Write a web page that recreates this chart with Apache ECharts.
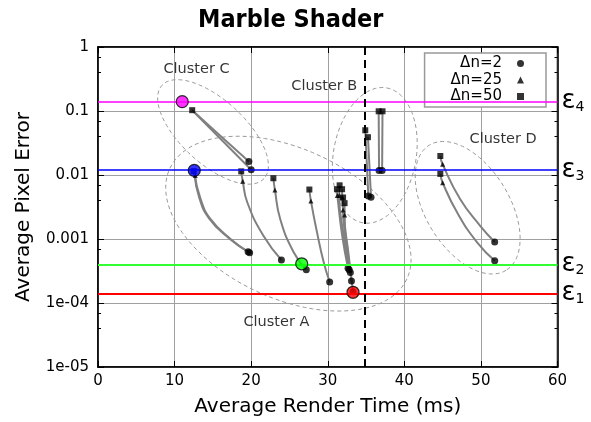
<!DOCTYPE html>
<html><head><meta charset="utf-8">
<script src="https://cdn.jsdelivr.net/npm/echarts@6/dist/echarts.min.js"></script>
<style>html,body{margin:0;padding:0;background:#fff}#c{width:591px;height:422px}</style>
</head><body><div id="c"></div>
<script>
// ---- data ----
const titleText = 'Marble Shader';
const xName = 'Average Render Time (ms)';
const yName = 'Average Pixel Error';
const yTickValues = [1e-5, 1e-4, 1e-3, 1e-2, 1e-1, 1];
const yTickLabels = ['1e-05', '1e-04', '0.001', '0.01', '0.1', '1'];

// curves: each runs from the Δn=50 point to the Δn=2 point  [ms, error]
const curves = [
  // Cluster C
  [[12.3, 0.103], [16.0, 0.0408], [19.7, 0.0162]],
  [[12.3, 0.103], [16.15, 0.0353], [20.0, 0.0121]],
  // Cluster A
  [[12.6, 0.0105], [13.4, 0.00419], [14.7, 0.00204], [17.3, 0.0010], [19.8, 0.00061]],
  [[12.6, 0.0105], [13.2, 0.0045], [14.5, 0.0021], [17.1, 0.00103], [19.6, 0.00063]],
  [[18.7, 0.0114], [18.9, 0.0080], [19.5, 0.00372], [21.6, 0.00112], [23.95, 0.00047]],
  [[22.9, 0.0089], [23.1, 0.00583], [23.8, 0.00204], [25.55, 0.00062], [27.2, 0.00033]],
  [[27.6, 0.00593], [27.8, 0.00394], [28.6, 0.00127], [29.47, 0.000432], [30.25, 0.000213]],
  [[31.2, 0.0060], [31.25, 0.0048], [31.9, 0.0011], [32.65, 0.00035]],
  [[31.55, 0.0069], [31.5, 0.0048], [32.1, 0.0011], [32.8, 0.00033]],
  [[31.87, 0.0060], [31.9, 0.0045], [32.3, 0.0011], [32.95, 0.00030]],
  [[32.0, 0.00445], [32.0, 0.00285], [32.5, 0.0008], [33.1, 0.00022]],
  [[32.2, 0.00363], [32.2, 0.00238], [32.7, 0.0006], [33.3, 0.00015]],
  // Cluster B
  [[34.9, 0.050], [35.3, 0.0047]],
  [[35.25, 0.039], [35.65, 0.0045]],
  [[36.65, 0.099], [36.7, 0.0118]],
  [[37.15, 0.099], [37.1, 0.0118]],
  // Cluster D
  [[44.7, 0.0198], [45.0, 0.0147], [47.3, 0.00418], [49.9, 0.00161], [51.8, 0.00090]],
  [[44.7, 0.0104], [45.0, 0.0076], [46.9, 0.00259], [49.5, 0.000885], [51.8, 0.000457]]
];

const dn50 = [[12.3, 0.103], [12.5, 0.0115], [18.7, 0.0114], [22.9, 0.0089], [27.6, 0.00593],
  [31.2, 0.0060], [31.55, 0.0069], [31.87, 0.0060], [32.0, 0.00445], [32.2, 0.00363],
  [34.9, 0.050], [35.25, 0.039], [36.65, 0.099], [37.15, 0.099], [44.7, 0.0198], [44.7, 0.0104]];
const dn25 = [[12.7, 0.0098], [18.9, 0.0080], [23.1, 0.00583], [27.8, 0.00394],
  [31.25, 0.0048], [31.5, 0.0048], [31.9, 0.0045], [32.0, 0.00285], [32.2, 0.00238],
  [45.0, 0.0147], [45.0, 0.0076]];
const dn2 = [[19.7, 0.0162], [20.0, 0.0121], [19.8, 0.00061], [19.6, 0.00063], [23.95, 0.00047],
  [27.2, 0.00033], [30.25, 0.000213], [32.65, 0.00035], [32.8, 0.00033], [32.95, 0.00030],
  [33.1, 0.00022], [33.3, 0.00015], [35.3, 0.0047], [35.65, 0.0045], [36.7, 0.0118], [37.1, 0.0118],
  [51.8, 0.00090], [51.8, 0.000457]];

const bestMs = [11.0, 12.57, 26.6, 33.3];
const bestErr = [0.140, 0.0118, 0.00041, 0.000147];

const epsValues = [0.00014, 0.00040, 0.012, 0.14];
const epsIndex = ['1', '2', '3', '4'];
const budgetMs = 34.8;

const clusterNames = ['Cluster A', 'Cluster B', 'Cluster C', 'Cluster D'];
const clusterLabelAt = [[23.3, 5.08e-5], [29.55, 0.241], [12.87, 0.443], [52.9, 0.036]];
// ellipses in data space: centre [ms, error], semi-axes [Δms, Δdecades]
const ellipses = [
  {center: [24.86, 0.001738], major: [15.48, -0.863], minor: [-4.13, -1.059]},
  {center: [36.14, 0.02028], major: [1.55, 1.054], minor: [5.32, -0.112]},
  {center: [15.02, 0.0471], major: [6.66, -0.729], minor: [-2.82, -0.368]},
  {center: [48.27, 0.00308], major: [5.01, -0.978], minor: [-4.67, -0.341]}
];

// ---- styles ----
const epsColors = ['#ff0000', '#33ff33', '#0000ff', '#ff00ff'];
const epsWidths = [2, 2, 1.5, 1.5];
const bestColors = ['#ff00ff', '#0000ff', '#00ff00', '#ff0000'];
const FONT = 'DejaVu Sans';

const chart = echarts.init(document.getElementById('c'), null, {renderer: 'canvas'});

function yFmt(v) {
  const i = yTickValues.findIndex(t => Math.abs(Math.log10(t) - Math.log10(v)) < 1e-6);
  return i >= 0 ? yTickLabels[i] : '';
}

const series = [];
series.push({
  type: 'custom', z: 1, silent: true, clip: false,
  data: ellipses.map((e, i) => [e.center[0], e.center[1], i]),
  renderItem(params, api) {
    const e = ellipses[api.value(2)];
    const c = api.coord(e.center);
    const pu = api.coord([e.center[0] + e.major[0], e.center[1] * Math.pow(10, e.major[1])]);
    const pw = api.coord([e.center[0] + e.minor[0], e.center[1] * Math.pow(10, e.minor[1])]);
    const U = [pu[0] - c[0], pu[1] - c[1]], W = [pw[0] - c[0], pw[1] - c[1]];
    const pts = [];
    for (let k = 0; k <= 96; k++) {
      const t = k / 96 * 2 * Math.PI;
      pts.push([c[0] + U[0] * Math.cos(t) + W[0] * Math.sin(t), c[1] + U[1] * Math.cos(t) + W[1] * Math.sin(t)]);
    }
    return {type: 'polyline', shape: {points: pts}, style: {fill: 'none', stroke: '#999', lineWidth: 1, lineDash: [4, 3]}};
  }
});
// reference lines
series.push({
  type: 'line', data: [], z: 2, silent: true,
  markLine: {
    silent: true, symbol: 'none', animation: false, precision: 10,
    data: epsValues.map((v, i) => ({
      yAxis: v,
      lineStyle: {color: epsColors[i], width: epsWidths[i], type: 'solid'},
      label: {show: true, position: 'end', distance: 4, formatter: '{e|ε}{s|' + epsIndex[i] + '}',
        rich: {
          e: {fontSize: 26, fontFamily: FONT, color: '#000', verticalAlign: 'bottom'},
          s: {fontSize: 14, fontFamily: FONT, color: '#000', verticalAlign: 'bottom'}
        }}
    })).concat([{
      xAxis: budgetMs, lineStyle: {color: '#000', width: 2, type: [8, 5]}, label: {show: false}
    }])
  }
});
curves.forEach(pts => series.push({
  type: 'line', data: pts, smooth: true, symbol: 'none', showSymbol: false, silent: true, z: 3,
  lineStyle: {color: '#808080', width: 2}
}));
series.push({name: 'Δn=2', type: 'scatter', data: dn2, symbol: 'circle', symbolSize: 7, itemStyle: {color: '#000'}, z: 4});
series.push({name: 'Δn=25', type: 'scatter', data: dn25, symbol: 'triangle', symbolSize: 5, itemStyle: {color: '#000'}, z: 4});
series.push({name: 'Δn=50', type: 'scatter', data: dn50, symbol: 'rect', symbolSize: 6, itemStyle: {color: '#000'}, z: 4});
series.push({
  type: 'scatter', z: 5, symbolSize: 12,
  data: bestMs.map((m, i) => ({value: [m, bestErr[i]], itemStyle: {color: bestColors[i], borderColor: '#000', borderWidth: 1.2}}))
});
series.push({
  type: 'scatter', z: 5, symbolSize: 0, silent: true,
  data: clusterLabelAt.map((p, i) => ({value: p, name: clusterNames[i]})),
  label: {show: true, position: 'inside', formatter: p => p.name, fontSize: 14.5, fontFamily: FONT, color: '#000'}
});

const yAxisBase = {
  type: 'log', logBase: 10, min: 1e-5, max: 1,
  axisLine: {show: true, onZero: false, lineStyle: {color: '#000', width: 1.5}},
  axisTick: {show: true, inside: true, length: 6, lineStyle: {color: '#000'}},
  minorTick: {show: true, splitNumber: 3, length: 3, lineStyle: {color: '#000'}}
};

chart.setOption({
  animation: false,
  textStyle: {fontFamily: FONT},
  title: {text: titleText, left: 193, top: 3,
    textStyle: {fontSize: 25, fontWeight: 'bold', color: '#000', fontFamily: "'DejaVu Sans Condensed', 'DejaVu Sans'"}},
  grid: {left: 98, right: 33.5, top: 47, bottom: 53.7, show: true, borderColor: '#000', borderWidth: 1.5},
  legend: {
    orient: 'vertical', right: 45, top: 53, align: 'right', itemWidth: 7, itemHeight: 7, itemGap: 1.5,
    padding: [3, 22, 3, 26], borderColor: '#999', borderWidth: 1.5, backgroundColor: '#fff',
    selectedMode: false, data: ['Δn=2', 'Δn=25', 'Δn=50'],
    textStyle: {fontSize: 15, color: '#000', fontFamily: FONT, padding: [0, 10, 0, 0]}
  },
  xAxis: [{
    type: 'value', min: 0, max: 60, interval: 10,
    name: xName, nameLocation: 'middle', nameGap: 30,
    nameTextStyle: {fontSize: 20, color: '#000', fontFamily: FONT},
    axisLine: {show: true, onZero: false, lineStyle: {color: '#000', width: 1.5}},
    axisTick: {show: true, inside: true, length: 6, lineStyle: {color: '#000'}},
    axisLabel: {fontSize: 15, color: '#000', margin: 7, fontFamily: FONT},
    splitLine: {show: true, lineStyle: {color: '#a0a0a0', width: 1}}
  }, {
    type: 'value', min: 0, max: 60, interval: 10, position: 'top',
    axisLine: {show: true, onZero: false, lineStyle: {color: '#000', width: 1.5}},
    axisTick: {show: true, inside: true, length: 6, lineStyle: {color: '#000'}},
    axisLabel: {show: false}, splitLine: {show: false}
  }],
  yAxis: [Object.assign({}, yAxisBase, {
    name: yName, nameLocation: 'middle', nameGap: 64,
    nameTextStyle: {fontSize: 20, color: '#000', fontFamily: FONT},
    axisLabel: {fontSize: 15, color: '#000', margin: 9, formatter: yFmt, fontFamily: FONT},
    splitLine: {show: true, lineStyle: {color: '#a0a0a0', width: 1}}
  }), Object.assign({}, yAxisBase, {
    position: 'right', axisLabel: {show: false}, splitLine: {show: false}
  })],
  series: series
});
</script></body></html>
